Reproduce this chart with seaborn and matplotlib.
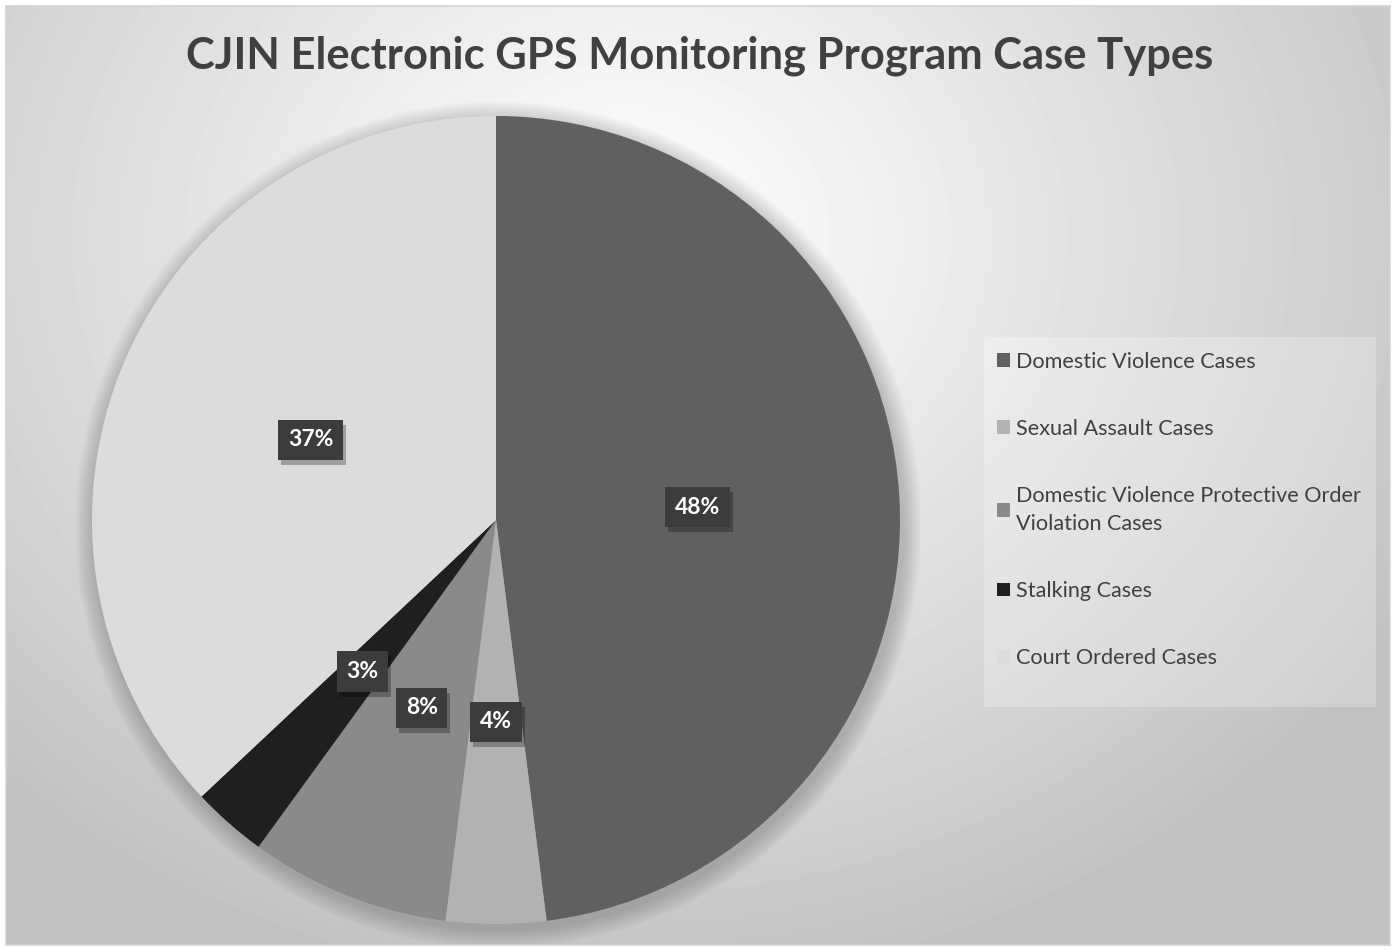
import numpy as np
import matplotlib
matplotlib.use("Agg")
import matplotlib.pyplot as plt
import matplotlib.transforms as mtransforms
from matplotlib.patches import Rectangle, Circle
import seaborn as sns

# data
categories = ["Domestic Violence Cases", "Sexual Assault Cases",
              "Domestic Violence Protective Order\nViolation Cases",
              "Stalking Cases", "Court Ordered Cases"]
shares = [48, 4, 8, 3, 37]
slice_colors = ["#606060", "#b2b2b2", "#8a8a8a", "#1f1f1f", "#dcdcdc"]

sns.set_theme(style="white")
plt.rcParams["font.family"] = ["Lato", "DejaVu Sans"]
plt.rcParams["hatch.color"] = "#555555"
plt.rcParams["hatch.linewidth"] = 1.0

W, H = 1396, 951
fig = plt.figure(figsize=(W / 100, H / 100), dpi=100)
fig.patch.set_facecolor("white")

# background with radial gradient and thin border
bg = fig.add_axes([6 / W, 6 / H, (W - 12) / W, (H - 12) / H])
yy, xx = np.mgrid[0:H - 12, 0:W - 12]
d = np.sqrt(((xx - 620) / 1.0) ** 2 + ((yy - 230) / 0.85) ** 2)
d = np.clip(d / 900, 0, 1)
shade = 1.0 - 0.24 * d ** 1.1
bg.imshow(shade, cmap="gray", vmin=0, vmax=1, aspect="auto", interpolation="bilinear")
bg.set_xticks([])
bg.set_yticks([])
for s in bg.spines.values():
    s.set_color("#d4d4d4")
    s.set_linewidth(1.2)

# pie
cx, cy, r = 496, 520, 404
lim = 1.05
ax = fig.add_axes([(cx - r * lim) / W, (H - cy - r * lim) / H, 2 * lim * r / W, 2 * lim * r / H])

# soft shadow around pie
for k in range(12):
    ax.add_patch(Circle((0.006, -0.012), 1.0 + 0.004 * (12 - k), color="black",
                        alpha=0.016, lw=0, zorder=0))

wedges, _, autotexts = ax.pie(shares, colors=slice_colors, startangle=90, counterclock=False,
                              radius=1.0, autopct="%1.0f%%", pctdistance=0.5,
                              wedgeprops=dict(linewidth=0, zorder=1))
ax.set_xlim(-lim, lim)
ax.set_ylim(-lim, lim)
ax.axis("off")

for t in autotexts:
    t.set_color("white")
    t.set_fontsize(16.5)
    t.set_fontweight("bold")
    t.set_zorder(5)
    t.set_bbox(dict(boxstyle="square,pad=0.42", facecolor="#3c3c3c", edgecolor="none",
                    hatch="..", linewidth=0))

# title
fig.text(700 / W, 1 - 56 / H, "CJIN Electronic GPS Monitoring Program Case Types",
         ha="center", va="center", fontsize=31.3, fontweight="bold", color="#404040")

# legend
fig.patches.append(Rectangle((984 / W, 1 - 707 / H), (1376 - 984) / W, (707 - 337) / H,
                             transform=fig.transFigure, facecolor="white", alpha=0.25,
                             edgecolor="none", zorder=1))
leg = fig.legend(wedges, categories, loc="upper left", bbox_to_anchor=(977 / W, 1 - 332 / H),
                 frameon=False, fontsize=15.6, labelcolor="#404040", handlelength=0.6,
                 handleheight=0.6, handletextpad=0.3, labelspacing=2.18)
for txt in leg.get_texts():
    txt.set_linespacing(1.5)

# drop shadows behind the label boxes
fig.canvas.draw()
for t in autotexts:
    ext = t.get_bbox_patch().get_window_extent()
    ax.add_patch(Rectangle((ext.x0 + 3, ext.y0 - 5), ext.width, ext.height,
                           transform=mtransforms.IdentityTransform(), facecolor="black",
                           alpha=0.28, edgecolor="none", zorder=4))

fig.savefig("out.png", dpi=100)
